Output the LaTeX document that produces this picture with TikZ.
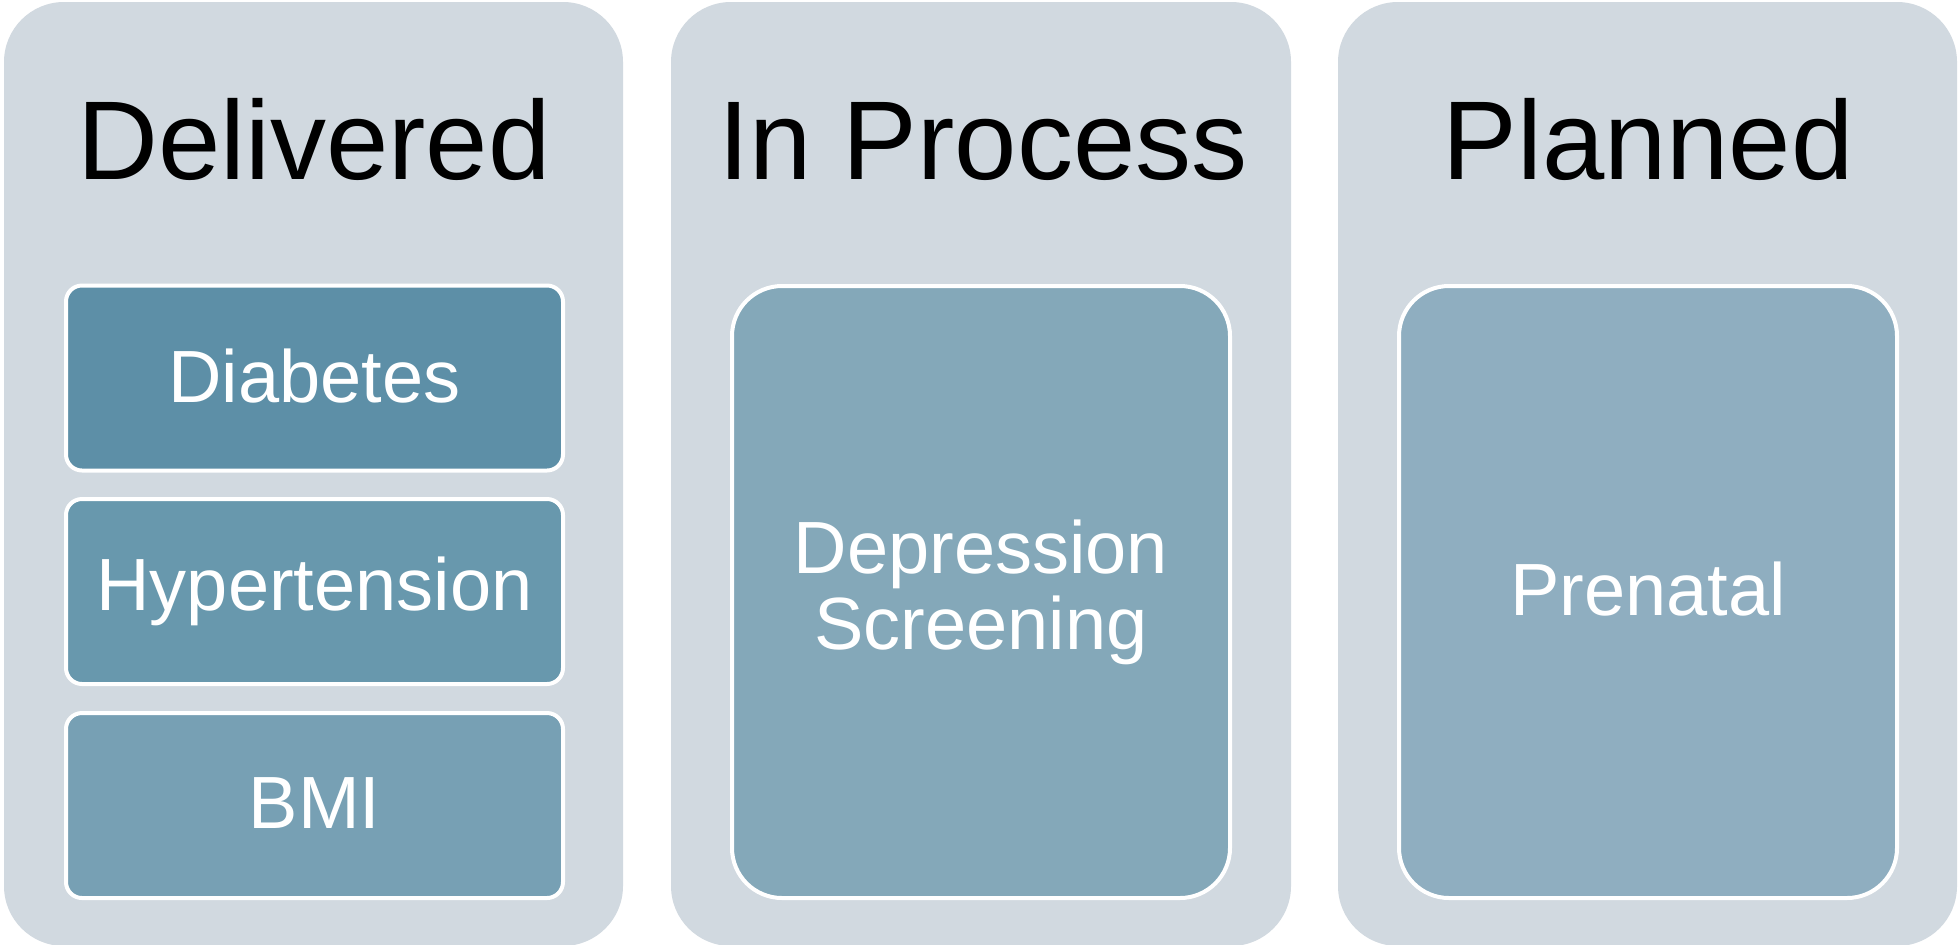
\documentclass[tikz,border=0pt]{standalone}
\usepackage{fontspec}
\setmainfont{Liberation Sans}
\definecolor{panelbg}{HTML}{D1D9E0}
\definecolor{cDia}{HTML}{5D8FA7}
\definecolor{cHyp}{HTML}{6898AD}
\definecolor{cBmi}{HTML}{77A0B4}
\definecolor{cDep}{HTML}{84A8B9}
\definecolor{cPre}{HTML}{8FAEC0}
\begin{document}
\begin{tikzpicture}[x=0.5pt,y=-0.5pt,
  panel/.style={fill=panelbg, draw=none, rounded corners=30pt},
  title/.style={anchor=base, text=black, font=\fontsize{56}{60}\selectfont, inner sep=0pt},
  smallbox/.style={draw=white, line width=2pt, rounded corners=8pt, minimum width=248.5pt, minimum height=92.5pt, text=white, font=\fontsize{37}{38}\selectfont, inner sep=0pt},
  bigbox/.style={draw=white, line width=2pt, rounded corners=25pt, minimum width=249pt, minimum height=306pt, text=white, font=\fontsize{37}{38}\selectfont, inner sep=0pt, align=center}
]
\useasboundingbox (0,0) rectangle (1959,944);
\fill[white] (0,0) rectangle (1959,944);
% panels
\path[panel] (4,2) rectangle (623,946);
\path[panel] (671,2) rectangle (1291,946);
\path[panel] (1338,2) rectangle (1957,946);
% titles
\node[title] (tDel) at (314,179) {Delivered};
\node[title] (tInP) at (983,179) {In Process};
\node[title] (tPla) at (1648,179) {Planned};
% boxes
\node[smallbox, fill=cDia] (dia) at (314.5,378) {\raisebox{2pt}{Diabetes}};
\node[smallbox, fill=cHyp] (hyp) at (314.5,591.5) {\raisebox{2pt}{Hypertension}};
\node[smallbox, fill=cBmi] (bmi) at (314.5,805.5) {\raisebox{2pt}{BMI}};
\node[bigbox, fill=cDep] (dep) at (981,592) {Depression\\Screening};
\node[bigbox, fill=cPre] (pre) at (1648,592) {\raisebox{3pt}{Prenatal}};
\end{tikzpicture}
\end{document}
